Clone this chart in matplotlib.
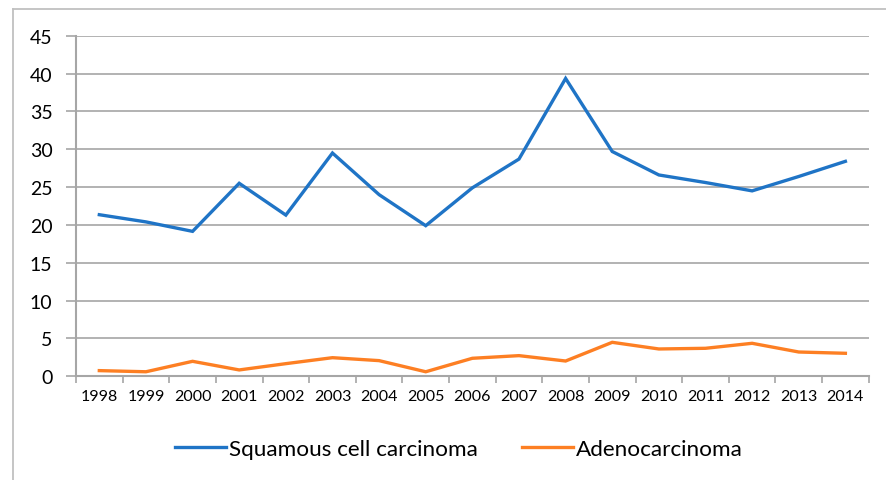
import matplotlib
matplotlib.use("Agg")
import matplotlib.pyplot as plt
from matplotlib.lines import Line2D

years = ["1998", "1999", "2000", "2001", "2002", "2003", "2004", "2005", "2006",
         "2007", "2008", "2009", "2010", "2011", "2012", "2013", "2014"]
squamous = [21.35, 20.4, 19.15, 25.5, 21.3, 29.5, 24.0, 19.9, 24.9,
            28.7, 39.35, 29.7, 26.6, 25.6, 24.5, 26.4, 28.4]
adeno = [0.75, 0.6, 1.98, 0.84, 1.67, 2.46, 2.07, 0.6, 2.38,
         2.73, 2.02, 4.49, 3.61, 3.70, 4.36, 3.21, 3.04]
yticks = [0, 5, 10, 15, 20, 25, 30, 35, 40, 45]

plt.rcParams['font.family'] = ['Lato', 'DejaVu Sans']

fig = plt.figure(figsize=(8.86, 4.81), dpi=100)
ax = fig.add_axes([76/886, 1-377.3/481, (868.7-76)/886, (377.3-36.7)/481])

grid_c = '#a6a6a6'
x = list(range(len(years)))
l1, = ax.plot(x, squamous, color='#1f74c6', lw=2.4, solid_joinstyle='miter')
l2, = ax.plot(x, adeno, color='#fd7f23', lw=2.4, solid_joinstyle='miter')

ax.set_xlim(-0.5, len(years)-0.5)
ax.set_ylim(0, 45)
ax.set_yticks(yticks)
ax.set_yticklabels([str(v) for v in yticks], fontsize=14)
ax.yaxis.grid(True, color=grid_c, lw=1.2)
ax.set_axisbelow(True)

ax.set_xticks([i - 0.5 for i in range(len(years)+1)])
ax.set_xticklabels([])
ax.set_xticks(x, minor=True)
ax.set_xticklabels(years, minor=True, fontsize=11.5)
ax.tick_params(axis='x', which='minor', length=0, pad=9)
ax.tick_params(axis='x', which='major', length=5, color=grid_c, width=1.2, direction='out')
ax.tick_params(axis='y', length=7, color=grid_c, width=1.2, direction='out', pad=10)

for s in ['top', 'right']:
    ax.spines[s].set_visible(False)
for s in ['left', 'bottom']:
    ax.spines[s].set_color(grid_c)
    ax.spines[s].set_linewidth(1.5)

leg = fig.legend([l1, l2], ["Squamous cell carcinoma", "Adenocarcinoma"],
                 loc='center', bbox_to_anchor=(459/886, 1-450/481), ncol=2,
                 frameon=False, fontsize=16.2, handlelength=2.25, handletextpad=0.15,
                 columnspacing=1.95)

# outer chart frame
fig.add_artist(Line2D([13/886, 13/886], [0, 1-10/481], color='#c0c0c0', lw=1.3,
                      transform=fig.transFigure))
fig.add_artist(Line2D([13/886, 1], [1-10/481, 1-10/481], color='#c0c0c0', lw=1.3,
                      transform=fig.transFigure))

fig.savefig("out.png", dpi=100)
